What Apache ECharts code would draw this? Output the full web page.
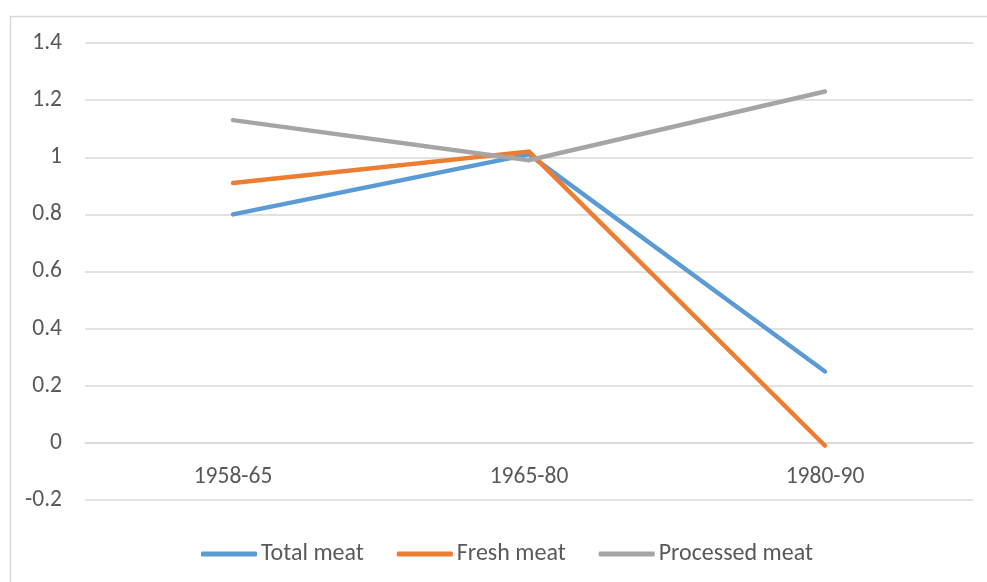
<!DOCTYPE html>
<html>
<head>
<meta charset="utf-8">
<style>
  html, body { margin: 0; padding: 0; background: #fff; }
  #chart { width: 987px; height: 582px; }
</style>
<script src="https://cdn.jsdelivr.net/npm/echarts@6/dist/echarts.min.js"></script>
</head>
<body>
<div id="chart"></div>
<script>
// Periods on the horizontal axis
const categories = ['1958-65', '1965-80', '1980-90'];

// Series values per period
const totalMeat = [0.80, 1.01, 0.25];
const freshMeat = [0.91, 1.02, -0.01];
const processedMeat = [1.13, 0.99, 1.23];

// Value axis range
const yMin = -0.2;
const yMax = 1.4;
const yStep = 0.2;

const textColor = '#595959';
const gridColor = '#d9d9d9';
const fontFamily = 'Carlito, "Open Sans", "Liberation Sans", sans-serif';
const axisFontSize = 23.5;
const legendFontSize = 24;

const chart = echarts.init(document.getElementById('chart'), null, { renderer: 'canvas' });

function lineSeries(name, data, color) {
  return {
    name: name,
    type: 'line',
    data: data,
    symbol: 'none',
    smooth: false,
    lineStyle: { color: color, width: 4.5, cap: 'round', join: 'miter' },
    itemStyle: { color: color },
    emphasis: { disabled: true }
  };
}

chart.setOption({
  animation: false,
  backgroundColor: '#ffffff',
  textStyle: { fontFamily: fontFamily },
  graphic: [{
    type: 'rect',
    left: 8, top: 14,
    shape: { width: 1000, height: 600 },
    style: { fill: 'none', stroke: gridColor, lineWidth: 1.5 },
    silent: true,
    z: -1
  }],
  grid: { left: 85, right: 14, top: 43, bottom: 82 },
  legend: {
    top: 537,
    left: 196,
    itemWidth: 56,
    itemHeight: 5,
    itemGap: 33,
    icon: 'roundRect',
    textStyle: { color: textColor, fontSize: legendFontSize, fontFamily: fontFamily, padding: [0, 0, 0, -1] },
    data: ['Total meat', 'Fresh meat', 'Processed meat']
  },
  xAxis: {
    type: 'category',
    data: categories,
    boundaryGap: true,
    axisLine: { onZero: true, lineStyle: { color: gridColor, width: 1.5 } },
    axisTick: { show: false },
    // category labels sit just under the zero line, inside the plot
    axisLabel: { color: textColor, fontSize: axisFontSize, margin: -35, fontFamily: fontFamily },
    splitLine: { show: false }
  },
  yAxis: {
    type: 'value',
    min: yMin,
    max: yMax,
    interval: yStep,
    axisLine: { show: false },
    axisTick: { show: false },
    axisLabel: {
      color: textColor, fontSize: axisFontSize, margin: 23, fontFamily: fontFamily,
      formatter: function (v) { return String(Math.round(v * 10) / 10); }
    },
    splitLine: { lineStyle: { color: gridColor, width: 1.5 } }
  },
  series: [
    lineSeries('Total meat', totalMeat, '#5B9BD5'),
    lineSeries('Fresh meat', freshMeat, '#ED7D31'),
    lineSeries('Processed meat', processedMeat, '#A5A5A5')
  ]
});
</script>
</body>
</html>
